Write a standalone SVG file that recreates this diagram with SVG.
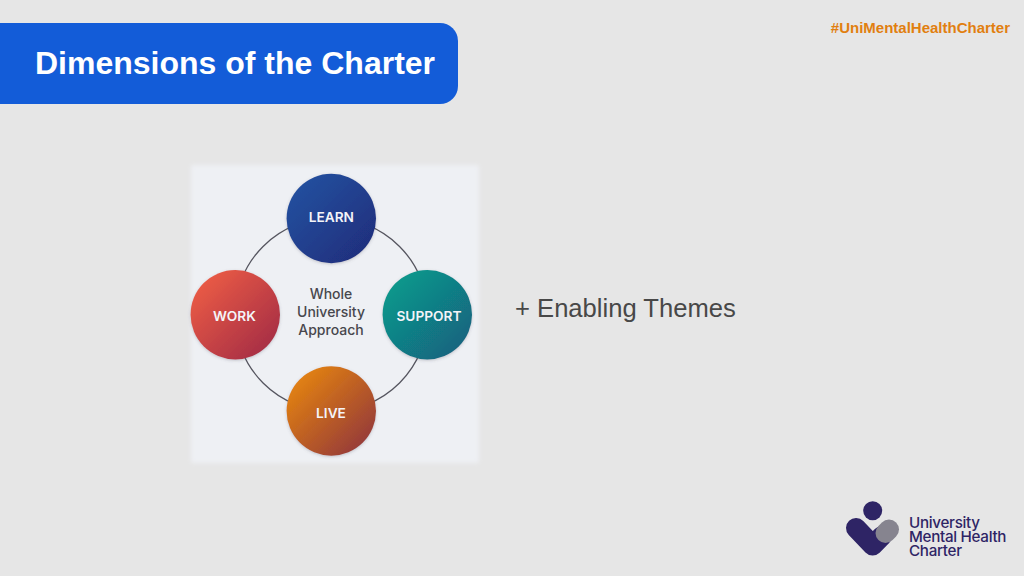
<svg xmlns="http://www.w3.org/2000/svg" width="1024" height="576" viewBox="0 0 1024 576">
<style>
.sans{font-family:"Liberation Sans",Arial,sans-serif}
.ui{font-family:"Inter","Liberation Sans",sans-serif}
.node{fill:#f4f4f8;font-size:13.7px;font-weight:600;text-anchor:middle}
.center{fill:#47474d;font-size:14px;font-weight:500;text-anchor:middle}
.logo{fill:#2e2465;font-size:15.2px;font-weight:500;letter-spacing:-.3px}
.disc{filter:url(#soft)}
</style>
<defs>
<linearGradient id="gLearn" x1="0.1" y1="0.1" x2="0.9" y2="0.9"><stop offset="0" stop-color="#23509f"/><stop offset="1" stop-color="#1f2f7d"/></linearGradient>
<linearGradient id="gWork" x1="0.1" y1="0.1" x2="0.9" y2="0.9"><stop offset="0" stop-color="#ec5c45"/><stop offset="1" stop-color="#a52d45"/></linearGradient>
<linearGradient id="gSupport" x1="0.1" y1="0.1" x2="0.9" y2="0.9"><stop offset="0" stop-color="#0f9a8c"/><stop offset="1" stop-color="#13637f"/></linearGradient>
<linearGradient id="gLive" x1="0.1" y1="0.1" x2="0.9" y2="0.9"><stop offset="0" stop-color="#e58410"/><stop offset="1" stop-color="#94393a"/></linearGradient>
<filter id="soft" x="-15%" y="-15%" width="130%" height="130%"><feDropShadow dx="0" dy="1" stdDeviation="1.5" flood-color="#555566" flood-opacity=".3"/></filter>
<filter id="edge" x="-5%" y="-5%" width="110%" height="110%"><feGaussianBlur stdDeviation="2"/></filter>
</defs>
<rect width="1024" height="576" fill="#e6e6e6"/>
<g id="header">
<path d="M0 23H440a18 18 0 0 1 18 18V86a18 18 0 0 1-18 18H0Z" fill="#135cd8"/>
<text class="sans" x="35" y="73.500" font-size="32" font-weight="700" fill="#fff">Dimensions of the Charter</text>
</g>
<text id="hashtag" class="sans" x="1010" y="32.500" font-size="15" font-weight="700" fill="#e17f10" text-anchor="end">#UniMentalHealthCharter</text>
<rect id="panel" x="191" y="165" width="288" height="298" fill="#eef0f4" filter="url(#edge)"/>
<g id="connectors">
<circle cx="331.300" cy="314.700" r="96.500" fill="none" stroke="#55555f" stroke-width="1.300"/>
</g>
<g id="learn"><circle class="disc" cx="331.300" cy="218.500" r="44.700" fill="url(#gLearn)"/><text class="node ui" x="331.300" y="221.500">LEARN</text></g>
<g id="work"><circle class="disc" cx="235.300" cy="314.700" r="44.700" fill="url(#gWork)"/><text class="node ui" x="234.500" y="320.500">WORK</text></g>
<g id="support"><circle class="disc" cx="427.300" cy="314.700" r="44.700" fill="url(#gSupport)"/><text class="node ui" x="429" y="320.500">SUPPORT</text></g>
<g id="live"><circle class="disc" cx="331.300" cy="411" r="44.700" fill="url(#gLive)"/><text class="node ui" x="331" y="417.500">LIVE</text></g>
<g id="whole">
<text class="center ui"><tspan x="331" y="299">Whole</tspan><tspan x="331" y="317">University</tspan><tspan x="331" y="335">Approach</tspan></text>
</g>
<text id="themes" class="sans" x="515" y="317" font-size="25.600" fill="#484848">+ Enabling Themes</text>
<g id="brand">
<path d="M856 528L872.700 545.500L882 536" stroke="#2e2465" stroke-width="20" stroke-linecap="round" stroke-linejoin="round" fill="none"/>
<path d="M889 529.500L885.500 533" stroke="#86848f" stroke-width="20" stroke-linecap="round" fill="none"/>
<circle cx="872.700" cy="510.700" r="9.500" fill="#2e2465"/>
<text class="logo ui"><tspan x="909" y="527.500">University</tspan><tspan x="909" y="541.500">Mental Health</tspan><tspan x="909" y="555.500">Charter</tspan></text>
</g>
</svg>
